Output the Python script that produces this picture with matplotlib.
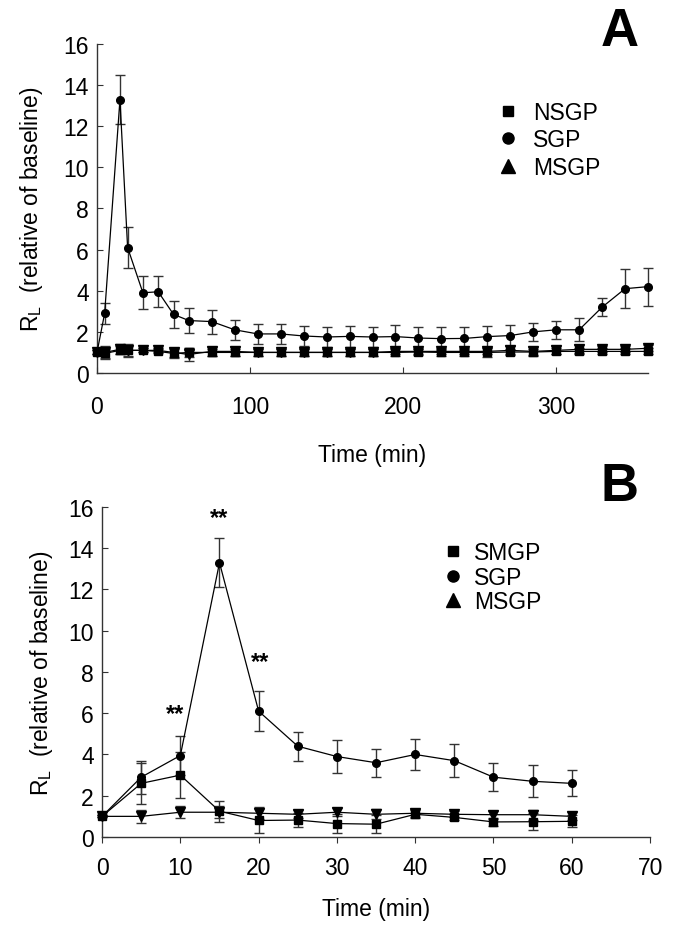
import numpy as np
import matplotlib
matplotlib.use('Agg')
import matplotlib.pyplot as plt
from matplotlib.lines import Line2D

plt.rcParams['font.family'] = ['Liberation Sans', 'DejaVu Sans']
plt.rcParams['mathtext.fontset'] = 'custom'
plt.rcParams['mathtext.rm'] = 'Liberation Sans'

# Panel A data (0-360 min)
t_a = [0, 5, 15, 20, 30, 40, 50, 60, 75, 90, 105, 120, 135, 150, 165, 180,
       195, 210, 225, 240, 255, 270, 285, 300, 315, 330, 345, 360]
sgp_a = [1.0, 2.9, 13.3, 6.1, 3.9, 3.95, 2.85, 2.55, 2.5, 2.1, 1.9, 1.9, 1.8,
         1.75, 1.78, 1.75, 1.77, 1.7, 1.67, 1.68, 1.77, 1.82, 2.0, 2.1, 2.1,
         3.2, 4.1, 4.2]
sgp_a_err = [0.1, 0.5, 1.2, 1.0, 0.8, 0.75, 0.65, 0.62, 0.58, 0.5, 0.5, 0.5,
             0.5, 0.5, 0.5, 0.5, 0.55, 0.55, 0.55, 0.55, 0.5, 0.5, 0.45, 0.45,
             0.55, 0.45, 0.95, 0.93]
nsgp_a = [1.0, 0.95, 1.1, 1.1, 1.1, 1.05, 0.95, 1.0, 1.0, 1.0, 1.0, 1.0, 1.0,
          1.0, 1.0, 1.0, 1.0, 1.02, 1.0, 1.0, 1.0, 1.02, 1.02, 1.05, 1.05,
          1.05, 1.05, 1.05]
nsgp_a_err = [0.1, 0.2, 0.2, 0.25, 0.1, 0.1, 0.2, 0.2, 0.15, 0.15, 0.15, 0.15,
              0.15, 0.15, 0.15, 0.15, 0.15, 0.15, 0.15, 0.15, 0.2, 0.15, 0.15,
              0.15, 0.15, 0.15, 0.15, 0.15]
msgp_a = [1.0, 1.0, 1.15, 1.1, 1.1, 1.1, 1.0, 0.9, 1.05, 1.05, 1.0, 1.0, 1.0,
          1.0, 1.0, 1.0, 1.05, 1.05, 1.05, 1.05, 1.05, 1.1, 1.05, 1.1, 1.15,
          1.15, 1.15, 1.2]
msgp_a_err = [0.1, 0.3, 0.25, 0.3, 0.1, 0.1, 0.2, 0.3, 0.2, 0.2, 0.15, 0.15,
              0.15, 0.15, 0.15, 0.15, 0.15, 0.15, 0.15, 0.15, 0.15, 0.2, 0.2,
              0.2, 0.2, 0.15, 0.15, 0.15]

# Panel B data (0-60 min)
t_b = [0, 5, 10, 15, 20, 25, 30, 35, 40, 45, 50, 55, 60]
sgp_b = [1.0, 2.9, 3.95, 13.3, 6.1, 4.4, 3.9, 3.6, 4.0, 3.7, 2.9, 2.7, 2.6]
sgp_b_err = [0.05, 0.8, 0.95, 1.2, 0.97, 0.7, 0.8, 0.67, 0.77, 0.8, 0.67, 0.77, 0.63]
smgp_b = [1.0, 2.6, 3.0, 1.25, 0.8, 0.82, 0.65, 0.62, 1.1, 0.95, 0.73, 0.74, 0.76]
smgp_b_err = [0.05, 1.0, 1.1, 0.5, 0.6, 0.35, 0.45, 0.45, 0.2, 0.15, 0.2, 0.4, 0.3]
msgp_b = [1.0, 1.0, 1.2, 1.2, 1.15, 1.1, 1.2, 1.1, 1.15, 1.1, 1.08, 1.08, 1.0]
msgp_b_err = [0.05, 0.3, 0.3, 0.3, 0.3, 0.2, 0.2, 0.25, 0.2, 0.15, 0.2, 0.25, 0.2]

# significance marks: (time, height)
stars_b = [(9.3, 6.0), (15, 15.5), (20.2, 8.5)]

ylab = r'R$_\mathregular{L}$  (relative of baseline)'
fs = 16.5

fig = plt.figure(figsize=(6.85, 9.28), dpi=100)
axA = fig.add_axes([0.1416, 0.597, 0.8044, 0.3545])
axB = fig.add_axes([0.149, 0.097, 0.80, 0.3556])


def series(ax, t, y, e, marker, ms):
    ax.errorbar(t, y, yerr=e, fmt='-', marker=marker, color='k', ms=ms,
                lw=0.9, ecolor='#333333', elinewidth=1.0, capsize=3.6,
                capthick=1.0, clip_on=False, zorder=3)


def style(ax):
    for s in ['top', 'right']:
        ax.spines[s].set_visible(False)
    for s in ['left', 'bottom']:
        ax.spines[s].set_color('#333333')
        ax.spines[s].set_linewidth(1.0)
    ax.set_ylim(0, 16)
    ax.set_yticks(np.arange(0, 17, 2))
    ax.tick_params(axis='y', direction='in', length=4, labelsize=fs, pad=6,
                   color='#333333')


# Panel A
series(axA, t_a, nsgp_a, nsgp_a_err, 's', 6)
series(axA, t_a, msgp_a, msgp_a_err, 'v', 6.5)
series(axA, t_a, sgp_a, sgp_a_err, 'o', 5.5)
style(axA)
axA.set_xlim(0, 360)
axA.set_xticks([0, 100, 200, 300])
axA.tick_params(axis='x', direction='in', length=4, labelsize=fs, pad=16,
                color='#333333')
axA.set_xlabel('Time (min)', fontsize=fs, labelpad=18)
axA.set_ylabel(ylab, fontsize=fs)
axA.yaxis.set_label_coords(-0.094, 0.5)

handlesA = [Line2D([], [], marker='s', ls='none', color='k', ms=7.5),
            Line2D([], [], marker='o', ls='none', color='k', ms=8),
            Line2D([], [], marker='^', ls='none', color='k', ms=10)]
axA.legend(handlesA, ['NSGP', 'SGP', 'MSGP'], loc='upper left',
           bbox_to_anchor=(0.683, 0.89), frameon=False, fontsize=fs,
           handletextpad=0.5, labelspacing=0.2, handlelength=1.2)

# Panel B
series(axB, t_b, smgp_b, smgp_b_err, 's', 6)
series(axB, t_b, msgp_b, msgp_b_err, 'v', 6.5)
series(axB, t_b, sgp_b, sgp_b_err, 'o', 5.5)
style(axB)
axB.set_xlim(0, 70)
axB.set_xticks(np.arange(0, 71, 10))
axB.tick_params(axis='x', direction='out', length=4, labelsize=fs, pad=10,
                color='#333333')
axB.set_xlabel('Time (min)', fontsize=fs, labelpad=13)
axB.set_ylabel(ylab, fontsize=fs)
axB.yaxis.set_label_coords(-0.085, 0.5)
for xs, ys in stars_b:
    axB.text(xs, ys, '**', ha='center', va='center', fontsize=17,
             fontweight='bold')

handlesB = [Line2D([], [], marker='s', ls='none', color='k', ms=7.5),
            Line2D([], [], marker='o', ls='none', color='k', ms=8),
            Line2D([], [], marker='^', ls='none', color='k', ms=10)]
axB.legend(handlesB, ['SMGP', 'SGP', 'MSGP'], loc='upper left',
           bbox_to_anchor=(0.578, 0.958), frameon=False, fontsize=fs,
           handletextpad=0.32, labelspacing=0.05, handlelength=1.2)

fig.text(620 / 685, 1 - 32 / 928, 'A', fontsize=38, fontweight='bold',
         ha='center', va='center')
fig.text(620 / 685, 1 - 487 / 928, 'B', fontsize=38, fontweight='bold',
         ha='center', va='center')

fig.savefig('out.png', dpi=100)
